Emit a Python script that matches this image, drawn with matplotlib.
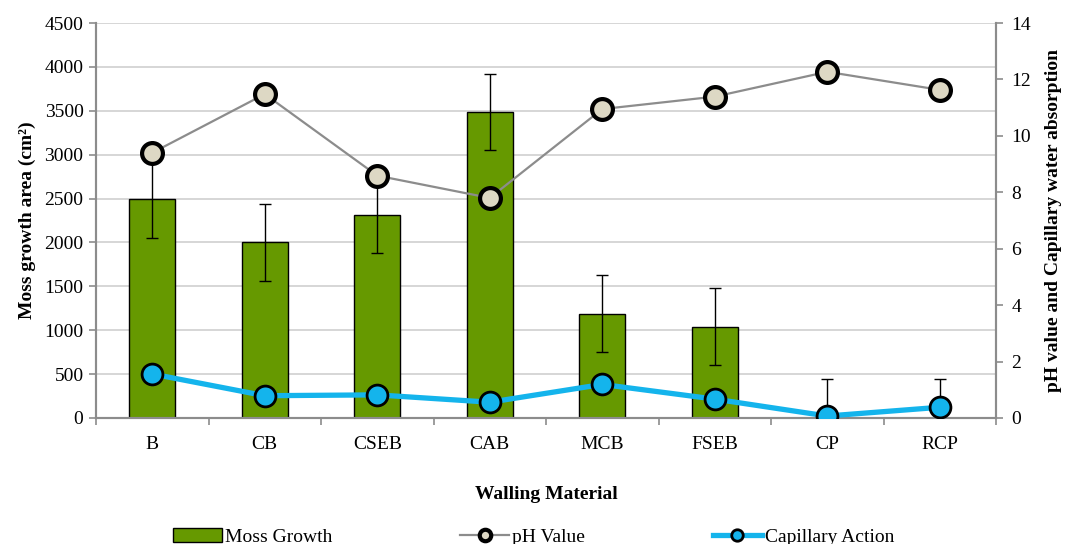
import matplotlib
matplotlib.use("Agg")
import matplotlib.pyplot as plt
import numpy as np

materials = ["B", "CB", "CSEB", "CAB", "MCB", "FSEB", "CP", "RCP"]
moss_growth = [2490, 2000, 2310, 3485, 1190, 1040, 0, 0]
moss_error = [440, 440, 435, 437, 437, 440, 440, 440]
ph_value = [9.40, 11.48, 8.59, 7.80, 10.95, 11.39, 12.27, 11.63]
capillary = [1.56, 0.79, 0.82, 0.56, 1.19, 0.67, 0.07, 0.38]

plt.rcParams["font.family"] = ["Liberation Serif", "DejaVu Serif"]
plt.rcParams["font.size"] = 14

fig = plt.figure(figsize=(10.67, 5.44), dpi=100)
ax1 = fig.add_axes([96 / 1067, 1 - 418 / 544, 900 / 1067, 395 / 544])
ax2 = ax1.twinx()

x = np.arange(len(materials))
spine_col = "#8c8c8c"

ax1.bar(x, moss_growth, width=0.41, color="#669900", edgecolor="black",
        linewidth=1.0, zorder=2, label="Moss Growth")
ax1.errorbar(x, moss_growth, yerr=moss_error, fmt="none", ecolor="black",
             elinewidth=1.0, capsize=4, capthick=1.0, zorder=3)

ax1.set_ylim(0, 4500)
ax1.set_yticks(np.arange(0, 4501, 500))
ax1.set_xlim(-0.5, len(materials) - 0.5)
ax1.set_xticks(x)
ax1.set_xticklabels(materials)
ax1.set_xticks(np.arange(-0.5, len(materials) + 0.5, 1), minor=True)
ax1.tick_params(axis="x", which="major", length=0, pad=13)
ax1.tick_params(axis="x", which="minor", length=5, color=spine_col, width=1.2)
ax1.tick_params(axis="y", length=5, color=spine_col, width=1.2, pad=4)
ax1.grid(axis="y", color="#d0d0d0", linewidth=1.2, zorder=0)
ax1.set_axisbelow(True)

for ax in (ax1, ax2):
    ax.spines["top"].set_visible(False)
    for side in ("left", "right", "bottom"):
        ax.spines[side].set_color(spine_col)
        ax.spines[side].set_linewidth(1.5)

ax2.plot(x, ph_value, color="#8c8c8c", linewidth=1.6, marker="o",
         markersize=15, markerfacecolor="#ddd8c4", markeredgecolor="black",
         markeredgewidth=3.0, zorder=4, label="pH Value")
ax2.plot(x, capillary, color="#14b4ec", linewidth=3.8, marker="o",
         markersize=15, markerfacecolor="#14b4ec", markeredgecolor="black",
         markeredgewidth=2.0, zorder=4, label="Capillary Action")
ax2.set_ylim(0, 14)
ax2.set_yticks(np.arange(0, 15, 2))
ax2.tick_params(axis="y", length=5, color=spine_col, width=1.2, pad=6)

ax1.set_ylabel("Moss growth area (cm²)", fontweight="bold", labelpad=6)
ax2.set_ylabel("pH value and Capillary water absorption", fontweight="bold",
               labelpad=10)
ax1.set_xlabel("Walling Material", fontweight="bold", labelpad=24)

h1, l1 = ax1.get_legend_handles_labels()
h2, l2 = ax2.get_legend_handles_labels()
fig.legend(h1 + h2, l1 + l2, loc="lower center", ncol=3, frameon=False,
           bbox_to_anchor=(0.5, -0.035), columnspacing=6.6, handlelength=2.5,
           handletextpad=0.15, markerscale=0.55)

fig.savefig("out.png", dpi=100)
